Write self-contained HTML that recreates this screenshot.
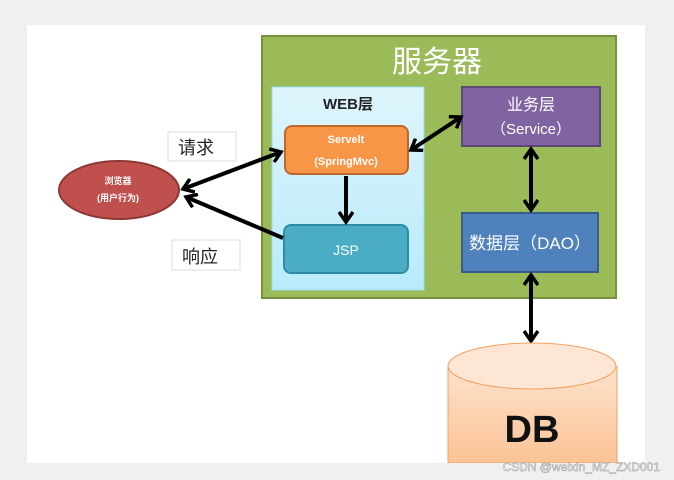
<!DOCTYPE html>
<html><head><meta charset="utf-8"><style>
html,body{margin:0;padding:0;background:#f0f0f0;width:674px;height:480px;overflow:hidden}
svg{display:block}
text{font-family:"Liberation Sans","Noto Sans CJK SC",sans-serif}
</style></head><body>
<svg width="674" height="480" viewBox="0 0 674 480" xmlns="http://www.w3.org/2000/svg">
<defs>
<linearGradient id="web" x1="0" y1="0" x2="0" y2="1"><stop offset="0" stop-color="#def5fc"/><stop offset="1" stop-color="#b8ebfa"/></linearGradient>
<linearGradient id="db" x1="0" y1="0" x2="0" y2="1"><stop offset="0" stop-color="#fde2cc"/><stop offset="1" stop-color="#fbc395"/></linearGradient>
<marker id="ah" markerWidth="14" markerHeight="16" refX="11" refY="8" orient="auto-start-reverse" markerUnits="userSpaceOnUse"><path d="M1,1 L11,8 L1,15" fill="none" stroke="#000" stroke-width="3.5"/></marker>
</defs>
<rect x="27" y="25" width="618" height="438" fill="#fff"/>
<rect x="262" y="36" width="354" height="262" fill="#9bbb59" stroke="#76923c" stroke-width="2"/>
<text x="437" y="72" font-size="30" fill="#fff" text-anchor="middle">服务器</text>
<rect x="272" y="87" width="152" height="203" fill="url(#web)" stroke="#9ddbf0" stroke-width="1"/>
<text x="348" y="109" font-size="15" font-weight="bold" fill="#222" text-anchor="middle">WEB层</text>
<rect x="285" y="126" width="123" height="48" rx="7" fill="#f79646" stroke="#c0682a" stroke-width="2"/>
<text x="346" y="143" font-size="11" font-weight="bold" fill="#fff" text-anchor="middle">Servelt</text>
<text x="346" y="165" font-size="11" font-weight="bold" fill="#fff" text-anchor="middle">(SpringMvc)</text>
<rect x="284" y="225" width="124" height="48" rx="7" fill="#4bacc6" stroke="#2f8ba3" stroke-width="2"/>
<text x="346" y="255" font-size="14" fill="#fff" text-anchor="middle">JSP</text>
<rect x="462" y="87" width="138" height="59" fill="#8064a2" stroke="#5c4776" stroke-width="2"/>
<text x="531" y="110" font-size="16" fill="#fff" text-anchor="middle">业务层</text>
<text x="531" y="134" font-size="15" fill="#fff" text-anchor="middle">（Service）</text>
<rect x="462" y="213" width="136" height="59" fill="#4f81bd" stroke="#385d8a" stroke-width="2"/>
<text x="530" y="249" font-size="17" fill="#fff" text-anchor="middle">数据层（DAO）</text>
<ellipse cx="119" cy="190" rx="60" ry="29" fill="#c0504d" stroke="#8c3836" stroke-width="2"/>
<text x="118" y="184" font-size="9" font-weight="bold" fill="#fff" text-anchor="middle">浏览器</text>
<text x="118" y="201" font-size="9" font-weight="bold" fill="#fff" text-anchor="middle">(用户行为)</text>
<rect x="168" y="132" width="68" height="29" fill="#fff" stroke="#ddd"/>
<text x="196" y="154" font-size="18" fill="#222" text-anchor="middle">请求</text>
<rect x="172" y="240" width="68" height="30" fill="#fff" stroke="#ddd"/>
<text x="200" y="263" font-size="18" fill="#222" text-anchor="middle">响应</text>
<g stroke="#000" stroke-width="4" fill="none">
<line x1="183" y1="189" x2="281" y2="152" marker-start="url(#ah)" marker-end="url(#ah)"/>
<line x1="283" y1="238" x2="186" y2="197" marker-end="url(#ah)"/>
<line x1="346" y1="176" x2="346" y2="222" marker-end="url(#ah)"/>
<line x1="411" y1="150" x2="461" y2="117" marker-start="url(#ah)" marker-end="url(#ah)"/>
<line x1="531" y1="149" x2="531" y2="210" marker-start="url(#ah)" marker-end="url(#ah)"/>
<line x1="531" y1="275" x2="531" y2="341" marker-start="url(#ah)" marker-end="url(#ah)"/>
</g>
<path d="M448,366 L448,463 L617,463 L617,366" fill="url(#db)" stroke="#f0a060" stroke-width="1"/>
<ellipse cx="532" cy="366" rx="84" ry="23" fill="#fde6d4" stroke="#f0a060" stroke-width="1"/>
<text x="532" y="442" font-size="38" font-weight="bold" fill="#111" text-anchor="middle">DB</text>
<rect x="0" y="463" width="674" height="17" fill="#f0f0f0"/>
<text x="660" y="471" font-size="12" fill="#fff" stroke="#999" stroke-width="0.5" text-anchor="end">CSDN @weixin_MZ_ZXD001</text>
</svg>
</body></html>
